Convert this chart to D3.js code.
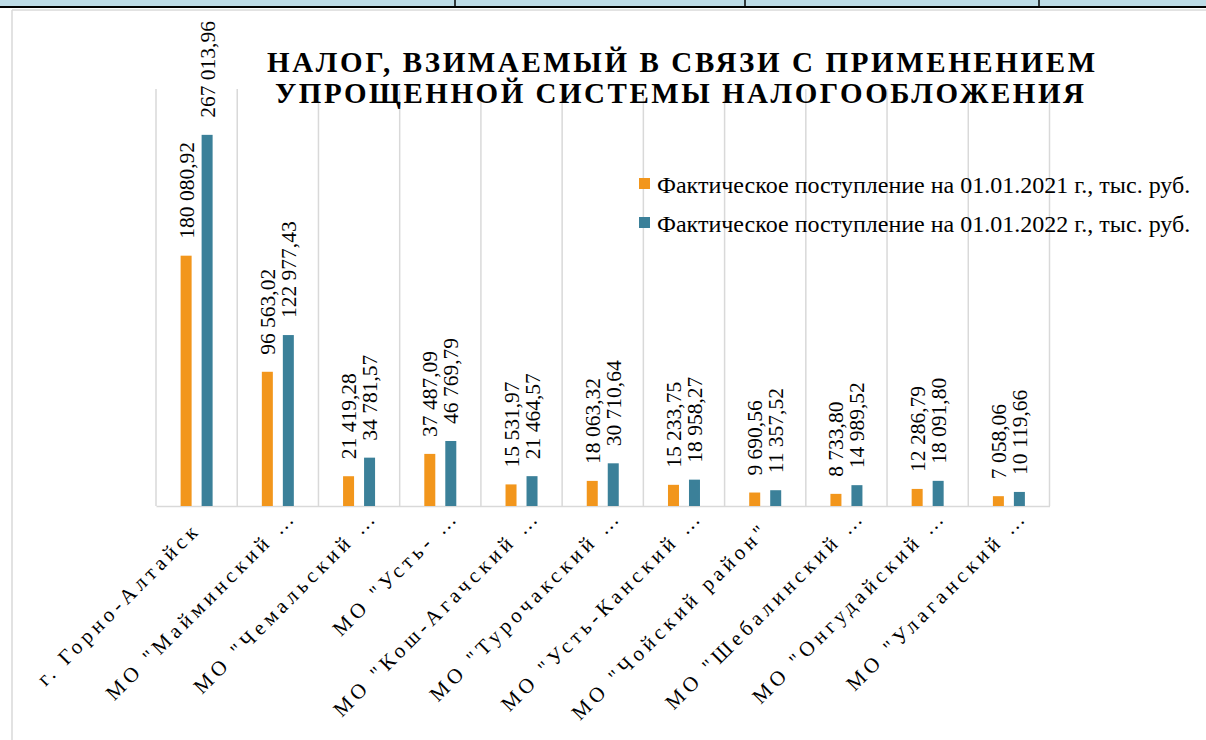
<!DOCTYPE html>
<html>
<head>
<meta charset="utf-8">
<script src="https://cdn.jsdelivr.net/npm/d3@7"></script>
<style>
  html, body { margin: 0; padding: 0; background: #fff; }
  svg { display: block; }
</style>
</head>
<body>
<svg id="chart" width="1206" height="740"></svg>
<script>
// ---- data ----
const categories = [
  "г. Горно-Алтайск",
  "МО \"Майминский …",
  "МО \"Чемальский …",
  "МО \"Усть- …",
  "МО \"Кош-Агачский …",
  "МО \"Турочакский …",
  "МО \"Усть-Канский …",
  "МО \"Чойский район\"",
  "МО \"Шебалинский …",
  "МО \"Онгудайский …",
  "МО \"Улаганский …"
];
const seriesNames = [
  "Фактическое поступление на 01.01.2021 г., тыс. руб.",
  "Фактическое поступление на 01.01.2022 г., тыс. руб."
];
const values2021 = [180080.92, 96563.02, 21419.28, 37487.09, 15531.97, 18063.32, 15233.75, 9690.56, 8733.80, 12286.79, 7058.06];
const values2022 = [267013.96, 122977.43, 34781.57, 46769.79, 21464.57, 30710.64, 18958.27, 11357.52, 14989.52, 18091.80, 10119.66];
const titleLines = ["НАЛОГ, ВЗИМАЕМЫЙ В СВЯЗИ С ПРИМЕНЕНИЕМ", "УПРОЩЕННОЙ СИСТЕМЫ НАЛОГООБЛОЖЕНИЯ"];
const colors = ["#F2961C", "#3B8099"];

// ---- layout ----
const FONT = "'Liberation Serif'";
const svg = d3.select("#chart");
const plot = { left: 156, right: 1049.5, top: 89, bottom: 506 };

// table strip at top
svg.append("rect").attr("x", 0).attr("y", 0).attr("width", 1206).attr("height", 7).attr("fill", "#BDDBE6");
svg.append("line").attr("x1", 0).attr("x2", 1206).attr("y1", 7).attr("y2", 7).attr("stroke", "#000").attr("stroke-width", 2);
[455, 745, 1039].forEach(x => {
  svg.append("line").attr("x1", x).attr("x2", x).attr("y1", 0).attr("y2", 7).attr("stroke", "#000").attr("stroke-width", 1.5);
});
// chart frame
svg.append("line").attr("x1", 12).attr("x2", 1206).attr("y1", 10).attr("y2", 10).attr("stroke", "#d9d9d9").attr("stroke-width", 1.5);
svg.append("line").attr("x1", 12).attr("x2", 12).attr("y1", 10).attr("y2", 740).attr("stroke", "#d9d9d9").attr("stroke-width", 1.5);

// scales
const x0 = d3.scaleBand().domain(categories).range([plot.left, plot.right]).padding(0);
const half = 16;
const x1 = d3.scaleBand().domain([0, 1]).range([x0.bandwidth() / 2 - half, x0.bandwidth() / 2 + half]).paddingInner(0.476).paddingOuter(0);
const y = d3.scaleLinear().domain([0, 300000]).range([plot.bottom, plot.top]);

// vertical gridlines at category boundaries
const bounds = categories.map(c => x0(c)).concat([x0(categories[categories.length - 1]) + x0.bandwidth()]);
svg.append("g").selectAll("line").data(bounds).join("line")
  .attr("x1", d => d).attr("x2", d => d)
  .attr("y1", y(300000)).attr("y2", y(0))
  .attr("stroke", "#d9d9d9").attr("stroke-width", 1.5);

// category axis line
const xAxis = d3.axisBottom(x0).tickSize(0).tickFormat("");
const gx = svg.append("g").attr("transform", `translate(0,${y(0)})`).call(xAxis);
gx.select(".domain").attr("stroke", "#d9d9d9").attr("stroke-width", 1.5);

// bars
const data = categories.map((c, i) => ({ c, vals: [values2021[i], values2022[i]] }));
const fmt = d3.formatLocale({ decimal: ",", thousands: " ", grouping: [3], currency: ["", ""] }).format(",.2f");

const groups = svg.append("g").selectAll("g").data(data).join("g")
  .attr("transform", d => `translate(${x0(d.c)},0)`);
groups.selectAll("rect").data(d => d.vals.map((v, k) => ({ v, k }))).join("rect")
  .attr("x", d => x1(d.k)).attr("width", x1.bandwidth())
  .attr("y", d => y(d.v)).attr("height", d => y(0) - y(d.v))
  .attr("fill", d => colors[d.k]);
groups.selectAll("text").data(d => d.vals.map((v, k) => ({ v, k }))).join("text")
  .attr("transform", d => `translate(${x1(d.k) + x1.bandwidth() / 2},${y(d.v) - 17}) rotate(-90)`)
  .attr("dy", "0.35em")
  .attr("text-anchor", "start")
  .attr("font-family", FONT)
  .style("font-size", "21.5px")
  .text(d => fmt(d.v));

// category labels rotated -45
const ls = 4.3;
svg.append("g").selectAll("text").data(categories).join("text")
  .attr("transform", d => {
    const cx = x0(d) + x0.bandwidth() / 2;
    const trunc = d.endsWith("…");
    const ex = trunc ? cx + 17 : cx + 2;
    const ey = trunc ? 521 : 534;
    return `translate(${ex},${ey}) rotate(-45)`;
  })
  .attr("dx", ls)
  .attr("text-anchor", "end")
  .attr("font-family", FONT)
  .style("font-size", "21px")
  .style("letter-spacing", ls + "px")
  .text(d => d);

// title
const titlePos = [{ x: 267, y: 72, w: 828 }, { x: 275, y: 103, w: 809 }];
titleLines.forEach((t, i) => {
  svg.append("text")
    .attr("x", titlePos[i].x).attr("y", titlePos[i].y)
    .attr("textLength", titlePos[i].w).attr("lengthAdjust", "spacing")
    .attr("font-family", FONT)
    .style("font-size", "29px").style("font-weight", "bold")
    .text(t);
});

// legend
const legend = svg.append("g").attr("transform", "translate(639,178)");
seriesNames.forEach((n, i) => {
  const g = legend.append("g").attr("transform", `translate(0,${i * 39})`);
  g.append("rect").attr("width", 11).attr("height", 11).attr("fill", colors[i]);
  g.append("text").attr("x", 18).attr("y", 15).attr("font-family", FONT).style("font-size", "24px").text(n);
});
</script>
</body>
</html>
